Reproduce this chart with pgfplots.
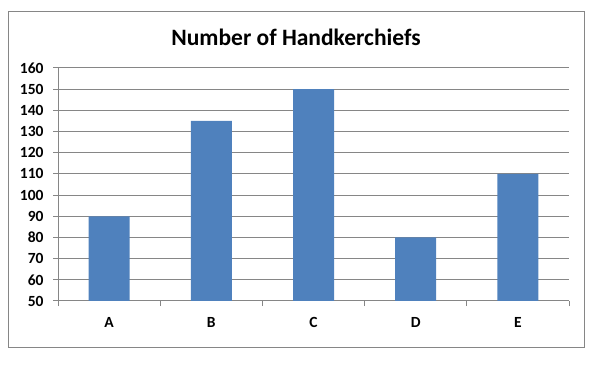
\documentclass[border=0pt]{standalone}
\usepackage{pgfplots}
\pgfplotsset{compat=1.18}
\usepackage{fontspec}
\setmainfont{Carlito}
\definecolor{barblue}{HTML}{4F81BD}
\definecolor{gridgray}{HTML}{868686}
\begin{document}
\begin{tikzpicture}[x=1pt,y=1pt]
\useasboundingbox (0,0) rectangle (593,374);
% chart frame
\draw[gridgray, line width=1pt] (8.5,362) rectangle (584,26);
\node[font=\fontsize{23.5}{27}\selectfont\bfseries] at (296,337) {Number of Handkerchiefs};
\begin{axis}[
  at={(58pt,73pt)}, anchor=south west,
  scale only axis, width=511pt, height=233pt,
  xmin=-0.5, xmax=4.5, ymin=50, ymax=160,
  ytick={50,60,...,160},
  xtick={0,...,4}, xticklabels={A,B,C,D,E},
  minor xtick={-0.5,0.5,...,4.5},
  major x tick style={draw=none},
  minor tick length=5pt, major tick length=5pt,
  tick align=outside,
  axis x line*=bottom, axis y line*=left,
  axis line style={gridgray, line width=1pt, -},
  tick style={gridgray, line width=1pt},
  ymajorgrids, grid style={gridgray, line width=1pt},
  ticklabel style={font=\fontsize{15.5}{18}\selectfont\bfseries},
  /pgf/number format/assume math mode=true,
  yticklabel style={xshift=-6pt},
  xticklabel style={yshift=-8pt},
  ybar, bar width=41pt,
]
\addplot[fill=barblue, draw=none] coordinates {(0,90) (1,135) (2,150) (3,80) (4,110)};
\end{axis}
\end{tikzpicture}
\end{document}
